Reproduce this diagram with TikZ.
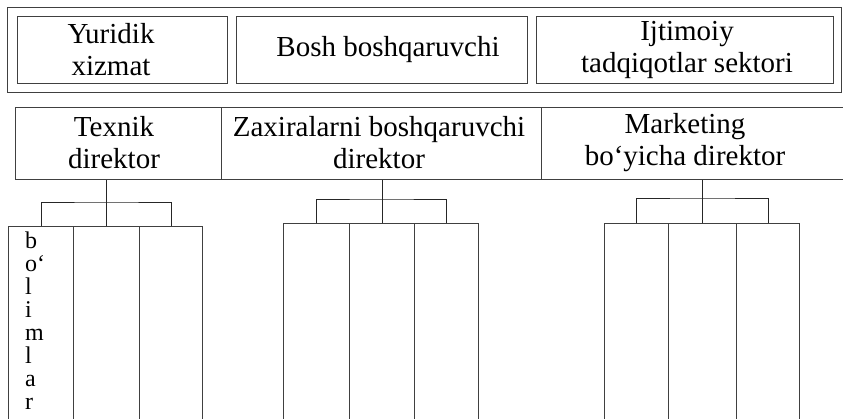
\documentclass[tikz,border=0pt]{standalone}
\usepackage{fontspec}
\setmainfont{Liberation Serif}

\newcommand\boxfont{\fontsize{29}{32}\selectfont}

\tikzset{
  box/.style={draw=black!75, line width=1pt, anchor=north west, inner sep=0pt,
    align=center, font=\boxfont},
  col/.style={draw=black!75, line width=1pt, anchor=north west, inner sep=0pt,
    minimum height=210pt},
  link/.style={draw=black!85, line width=1pt}
}

\begin{document}
\begin{tikzpicture}[x=1pt, y=-1pt]
    % 画面の大きさを固定し、はみ出す部分を切り取る
    \path[use as bounding box, clip] (0,0) rectangle (843,418);

    % 上段: 外枠と三つの箱
    \node[box, minimum width=834pt, minimum height=85pt] (frame) at (7,7) {};
    \node[box, minimum width=210pt, minimum height=67pt] (yur) at (17,16) {};
    \node[box, minimum width=291pt, minimum height=67pt] (bosh) at (236,16) {};
    \node[box, minimum width=297pt, minimum height=67pt] (ijt) at (536,16) {};
    \node[box, draw=none, anchor=center] at (111,50) {Yuridik\\xizmat};
    \node[box, draw=none, anchor=center] at (388,50) {Bosh boshqaruvchi};
    \node[box, draw=none, anchor=center] at (687,50) {Ijtimoiy\\tadqiqotlar sektori};

    % 中段: 三人の取締役
    \node[box, minimum width=206pt, minimum height=72pt] (tex) at (15,107) {};
    \node[box, minimum width=320pt, minimum height=72pt] (zax) at (221,107) {};
    \node[box, minimum width=320pt, minimum height=72pt] (mkt) at (541,107) {};
    \node[box, draw=none, anchor=center] at (114,143) {Texnik\\direktor};
    \node[box, draw=none, anchor=center] at (379,143) {Zaxiralarni boshqaruvchi\\direktor};
    \node[box, draw=none, anchor=center] at (685,143) {Marketing\\bo‘yicha direktor};

    % 下段: 部門の列 (各取締役に三列)
    \node[col, minimum width=65pt] (t1) at (8,226) {};
    \node[col, minimum width=66pt] (t2) at (73,226) {};
    \node[col, minimum width=63pt] (t3) at (139,226) {};
    \node[col, minimum width=66pt] (z1) at (283,223) {};
    \node[col, minimum width=65pt] (z2) at (349,223) {};
    \node[col, minimum width=64pt] (z3) at (414,223) {};
    \node[col, minimum width=64pt] (m1) at (604,223) {};
    \node[col, minimum width=68pt] (m2) at (668,223) {};
    \node[col, minimum width=63pt] (m3) at (736,223) {};
    \node[anchor=north west, inner sep=0pt, align=left,
      font=\fontsize{24}{23}\selectfont] (bolim) at (25,232) {b\\o‘\\l\\i\\m\\l\\a\\r};

    % 分岐点
    \coordinate (tbar) at (t2.north |- 0,202);
    \coordinate (zbar) at (z2.north |- 0,199);
    \coordinate (mbar) at (m2.north |- 0,198);

    % 取締役から各列への線
    \draw[link] (tex.south -| t2.north) -- (t2.north);
    \draw[link] (t1.north) |- (tbar) -| (t3.north);
    \draw[link] (zax.south -| z2.north) -- (z2.north);
    \draw[link] (z1.north) |- (zbar) -| (z3.north);
    \draw[link] (mkt.south -| m2.north) -- (m2.north);
    \draw[link] (m1.north) |- (mbar) -| (m3.north);
\end{tikzpicture}
\end{document}
